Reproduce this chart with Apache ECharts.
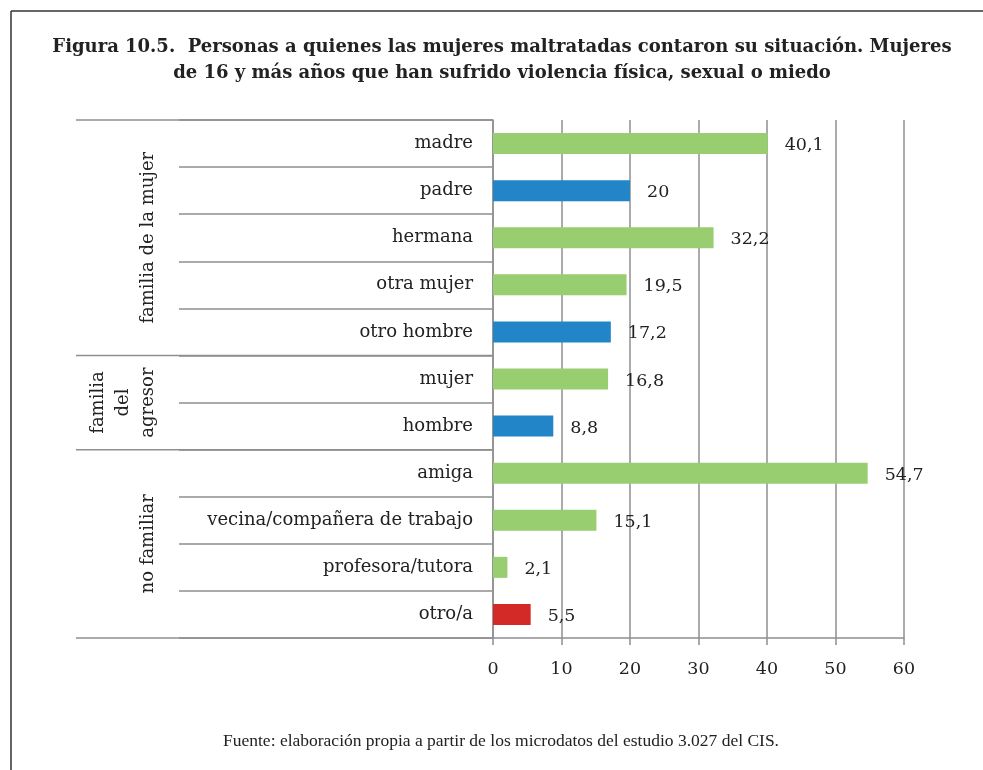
<!DOCTYPE html>
<html>
<head>
<meta charset="utf-8">
<script src="https://cdn.jsdelivr.net/npm/echarts@6/dist/echarts.min.js"></script>
<style>
  html, body { margin: 0; padding: 0; background: #fff; }
  #chart { width: 983px; height: 770px; }
</style>
</head>
<body>
<div id="chart"></div>
<script>
// Categories, top to bottom
const categories = [
  'madre', 'padre', 'hermana', 'otra mujer', 'otro hombre',
  'mujer', 'hombre',
  'amiga', 'vecina/compañera de trabajo', 'profesora/tutora', 'otro/a'
];
// Percentage of women who told each person
const values = [40.1, 20, 32.2, 19.5, 17.2, 16.8, 8.8, 54.7, 15.1, 2.1, 5.5];
// Sex of the confidant: w = woman, m = man, o = other
const sexKey = ['w', 'm', 'w', 'w', 'm', 'w', 'm', 'w', 'w', 'w', 'o'];
// Groups of rows: label and number of rows they span
const groupLabels = ['familia de la mujer', 'familia\ndel\nagresor', 'no familiar'];
const groupSizes = [5, 2, 4];
// Value axis ticks
const xTicks = [0, 10, 20, 30, 40, 50, 60];

const titleText = 'Figura 10.5.  Personas a quienes las mujeres maltratadas contaron su situación. Mujeres\nde 16 y más años que han sufrido violencia física, sexual o miedo';
const sourceText = 'Fuente: elaboración propia a partir de los microdatos del estudio 3.027 del CIS.';

const sexColors = { w: '#98CD70', m: '#2185C7', o: '#D42A27' };
const serif = '"DejaVu Serif", Georgia, serif';
const textColor = '#222';
const lineColor = '#8f8f8f';

const chart = echarts.init(document.getElementById('chart'), null, { renderer: 'canvas' });

const fmt = v => String(v).replace('.', ',');

const baseGraphic = [
  // page frame
  { type: 'line', shape: { x1: 11, y1: 11, x2: 983, y2: 11 }, style: { stroke: '#333', lineWidth: 1.5 } },
  { type: 'line', shape: { x1: 11, y1: 11, x2: 11, y2: 770 }, style: { stroke: '#333', lineWidth: 1.5 } },
  {
    type: 'text', x: 502, y: 60,
    style: {
      text: titleText, font: 'bold 18px ' + serif, fill: textColor,
      align: 'center', verticalAlign: 'middle', lineHeight: 26
    }
  },
  {
    type: 'text', x: 501, y: 741,
    style: {
      text: sourceText,
      font: '17.5px "Liberation Serif", "Times New Roman", serif', fill: textColor,
      align: 'center', verticalAlign: 'middle'
    }
  }
];

const option = {
  animation: false,
  backgroundColor: '#fff',
  grid: { left: 493, right: 79, top: 120, bottom: 132, containLabel: false },
  xAxis: {
    type: 'value',
    min: xTicks[0], max: xTicks[xTicks.length - 1], interval: 10,
    axisLine: { show: true, lineStyle: { color: lineColor, width: 1.5 } },
    axisTick: { show: true, length: 7, lineStyle: { color: lineColor, width: 1.5 } },
    splitLine: { show: true, lineStyle: { color: lineColor, width: 1.5 } },
    axisLabel: {
      margin: 22, fontFamily: serif, fontSize: 17.5, color: textColor,
      formatter: v => (xTicks.includes(v) ? String(v) : '')
    }
  },
  yAxis: {
    type: 'category',
    data: categories,
    inverse: true,
    axisLine: { show: true, lineStyle: { color: lineColor, width: 1.5 } },
    axisTick: { show: true, length: 314, lineStyle: { color: lineColor, width: 1.5 } },
    splitLine: { show: false },
    axisLabel: {
      margin: 20, fontFamily: serif, fontSize: 18, color: textColor
    }
  },
  series: [{
    type: 'bar',
    barWidth: 21,
    data: values.map((v, i) => ({ value: v, itemStyle: { color: sexColors[sexKey[i]] } })),
    label: {
      show: true, position: 'right', distance: 17,
      fontFamily: serif, fontSize: 17.5, color: textColor,
      offset: [0, 2],
      formatter: p => fmt(p.value)
    }
  }],
  graphic: baseGraphic
};

chart.setOption(option);

// Group separators and rotated group names, placed through the category scale
const groupX0 = 76;
const axisX = chart.convertToPixel({ gridIndex: 0 }, [0, 0])[0];
const bandEdge = idx => {
  // pixel y of the boundary above category idx
  const c0 = chart.convertToPixel({ yAxisIndex: 0 }, categories[0]);
  const c1 = chart.convertToPixel({ yAxisIndex: 0 }, categories[1]);
  const step = c1 - c0;
  return c0 - step / 2 + idx * step;
};
const extra = [];
let start = 0;
const edges = [0];
groupSizes.forEach(n => { start += n; edges.push(start); });
edges.forEach(e => {
  const y = bandEdge(e);
  extra.push({ type: 'line', shape: { x1: groupX0, y1: y, x2: axisX, y2: y },
    style: { stroke: lineColor, lineWidth: 1.5 } });
});
groupLabels.forEach((lab, g) => {
  const yc = (bandEdge(edges[g]) + bandEdge(edges[g + 1])) / 2;
  const lines = lab.split('\n').length;
  const xc = lines > 1 ? 123 : 148;
  extra.push({
    type: 'text', x: xc, y: yc, rotation: Math.PI / 2,
    style: {
      text: lab, font: '18px ' + serif, fill: textColor,
      align: 'center', verticalAlign: 'middle', lineHeight: 25
    }
  });
});
chart.setOption({ graphic: baseGraphic.concat(extra) }, { replaceMerge: ['graphic'] });
</script>
</body>
</html>
